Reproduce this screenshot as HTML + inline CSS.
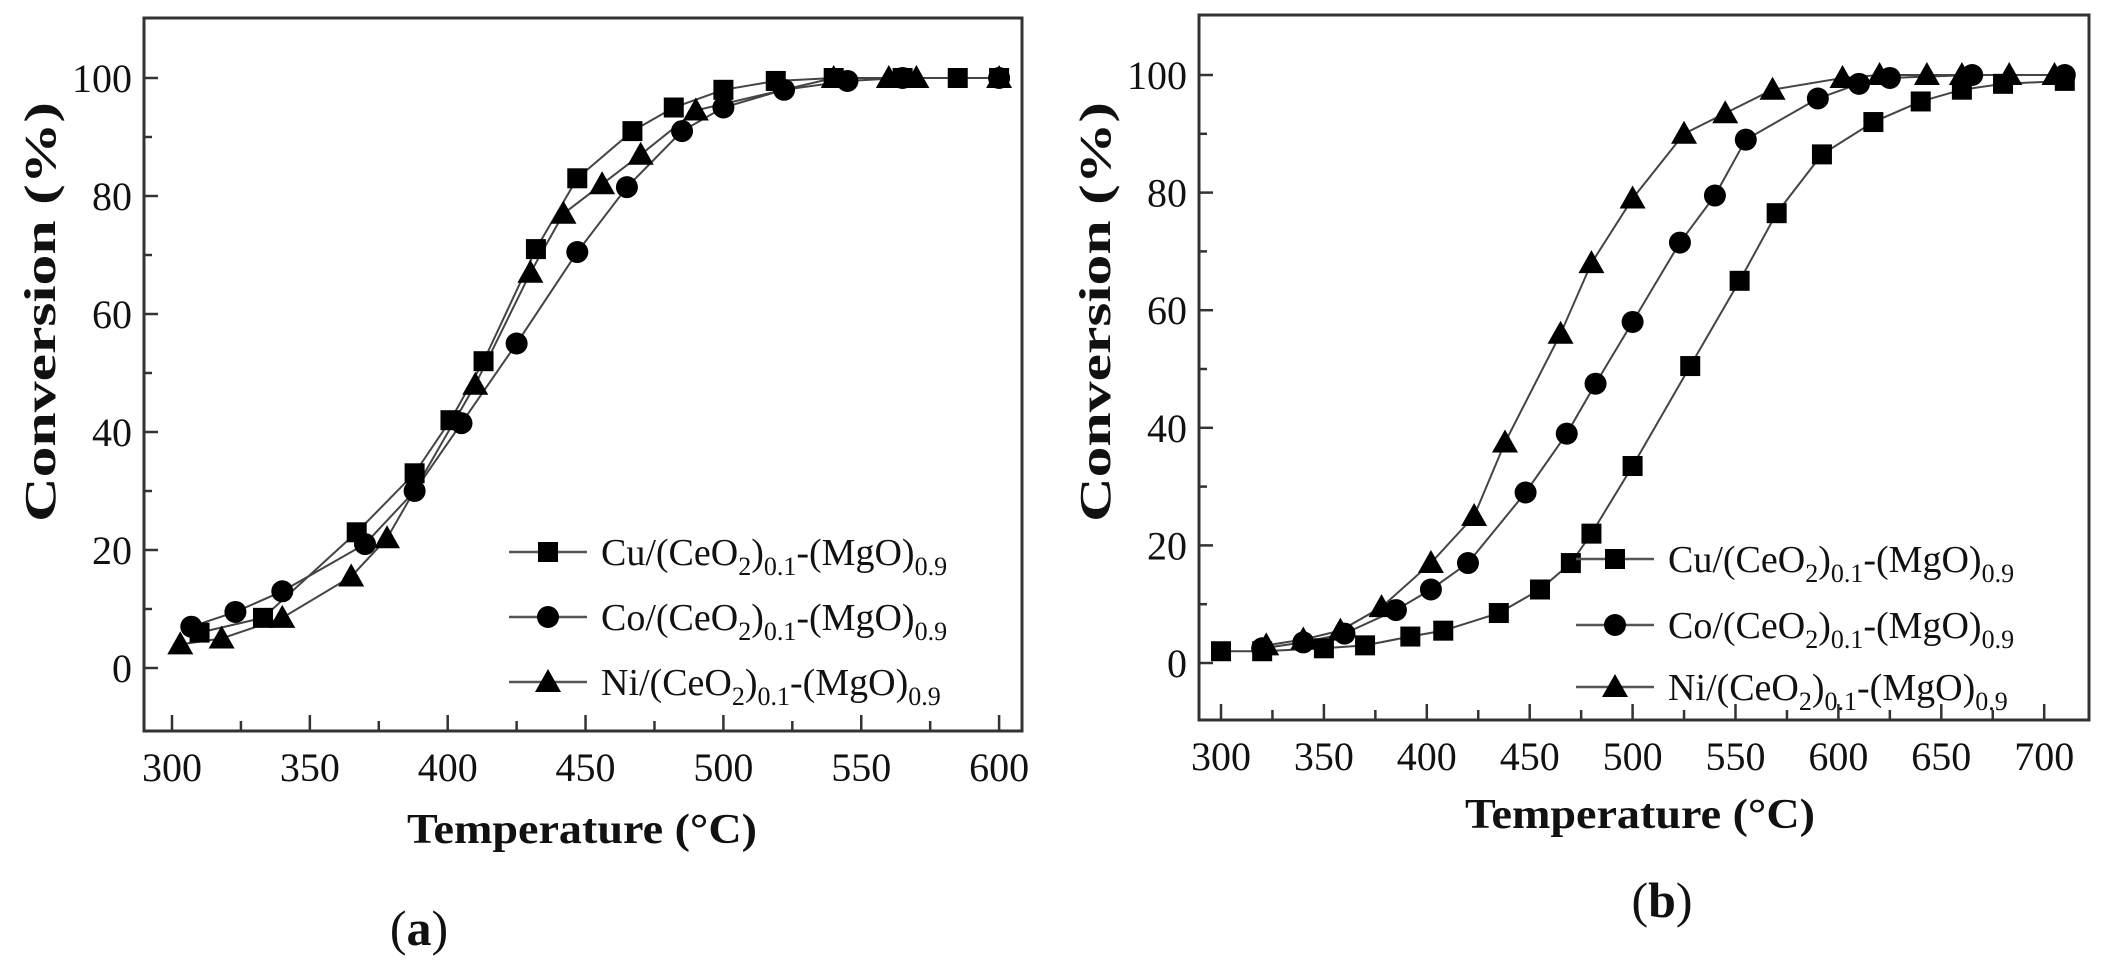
<!DOCTYPE html>
<html><head><meta charset="utf-8"><style>
html,body{margin:0;padding:0;background:#fff;}
svg{display:block;}
text{font-family:"Liberation Serif",serif;fill:#111;}
</style></head><body>
<svg id="s" width="2102" height="973" viewBox="0 0 2102 973" xmlns="http://www.w3.org/2000/svg"></svg>
<script>
const S=document.getElementById('s');const NS='http://www.w3.org/2000/svg';
function el(t,a,p){const e=document.createElementNS(NS,t);for(const k in a)e.setAttribute(k,a[k]);(p||S).appendChild(e);return e;}
function txt(x,y,s,a){const e=el('text',Object.assign({x:x,y:y},a||{}));e.innerHTML=s;return e;}
function marker(type,x,y){
 if(type=='s')el('rect',{x:x-10,y:y-10,width:20,height:20,fill:'#000'});
 else if(type=='c')el('circle',{cx:x,cy:y,r:11,fill:'#000'});
 else el('polygon',{points:`${x},${y-13} ${x+13},${y+10} ${x-13},${y+10}`,fill:'#000'});
}
function plot(P){
 const X=v=>P.x0+(v-P.xa)*P.kx, Y=v=>P.y0-v*P.ky;
 el('rect',{x:P.L,y:P.T,width:P.R-P.L,height:P.B-P.T,fill:'none',stroke:'#333','stroke-width':3});
 for(let v=0;v<=100;v+=10){const y=Y(v);el('line',{x1:P.L,y1:y,x2:P.L+(v%20?8:14),y2:y,stroke:'#333','stroke-width':2.5});
  if(v%20==0)txt(P.L-12,y+14,v,{'font-size':40,'text-anchor':'end'});}
 for(let v=P.xa;v<=P.xb;v+=25){const x=X(v);el('line',{x1:x,y1:P.B,x2:x,y2:P.B-(v%50?10:16),stroke:'#333','stroke-width':2.5});
  if(v%50==0)txt(x,P.B+50,v,{'font-size':40,'text-anchor':'middle'});}
 txt(P.tx,P.ty,'Temperature (°C)',{'font-size':42,'font-weight':'bold','text-anchor':'middle',textLength:350,lengthAdjust:'spacingAndGlyphs'});
 txt(0,0,'Conversion (%)',{'font-size':44,'font-weight':'bold','text-anchor':'middle',transform:`translate(${P.yx},${P.yy}) rotate(-90)`,textLength:420,lengthAdjust:'spacingAndGlyphs'});
 txt(P.lx,P.ly,P.lab,{'font-size':50,'text-anchor':'middle'});
 const types=['s','c','t'];
 P.data.forEach((d,i)=>{
  el('polyline',{points:d.map(p=>X(p[0])+','+Y(p[1])).join(' '),fill:'none',stroke:'#444','stroke-width':2});
 });
 P.data.forEach((d,i)=>d.forEach(p=>marker(types[i],X(p[0]),Y(p[1]))));
 const names=['Cu','Co','Ni'];
 P.leg.forEach((ly,i)=>{
  el('line',{x1:P.lgx,y1:ly,x2:P.lgx+78,y2:ly,stroke:'#555','stroke-width':2.5});
  marker(types[i],P.lgx+39,ly);
  txt(P.lgx+92,ly+13,`${names[i]}/(CeO<tspan font-size="26" dy="10">2</tspan><tspan dy="-10">)</tspan><tspan font-size="26" dy="10">0.1</tspan><tspan dy="-10">-(MgO)</tspan><tspan font-size="26" dy="10">0.9</tspan>`,{'font-size':38});
 });
}
plot({L:144,R:1022,T:18,B:731,x0:172,xa:300,xb:600,kx:2.757,y0:668,ky:5.9,
 tx:582,ty:843,yx:55,yy:312,lx:419,ly:945,lab:'(<tspan font-weight="bold">a</tspan>)',lgx:509,leg:[552,617,682],
 data:[
 [[310,6],[333,8.5],[367,23],[388,33],[401,42],[413,52],[432,71],[447,83],[467,91],[482,95],[500,98],[519,99.5],[540,100],[565,100],[585,100],[600,100]],
 [[307,7],[323,9.5],[340,13],[370,21],[388,30],[405,41.5],[425,55],[447,70.5],[465,81.5],[485,91],[500,95],[522,98],[545,99.5],[565,100],[600,100]],
 [[303,4],[318,5],[340,8.5],[365,15.5],[378,22],[410,48],[430,67],[442,77],[456,82],[470,87],[490,94.5],[540,100],[560,100],[570,100],[600,100]]
 ]});
plot({L:1199,R:2089,T:15,B:720,x0:1221,xa:300,xb:700,kx:2.058,y0:663,ky:5.88,
 tx:1640,ty:828,yx:1110,yy:312,lx:1662,ly:917,lab:'(<tspan font-weight="bold">b</tspan>)',lgx:1576,leg:[559,625,687],
 data:[
 [[300,2],[320,2],[350,2.5],[370,3],[392,4.5],[408,5.5],[435,8.5],[455,12.5],[470,17],[480,22],[500,33.5],[528,50.5],[552,65],[570,76.5],[592,86.5],[617,92],[640,95.5],[660,97.5],[680,98.5],[710,99]],
 [[320,2.5],[340,3.5],[360,5],[385,9],[402,12.5],[420,17],[448,29],[468,39],[482,47.5],[500,58],[523,71.5],[540,79.5],[555,89],[590,96],[610,98.5],[625,99.5],[665,100],[710,100]],
 [[322,3],[340,4],[358,5.5],[378,9.5],[402,17],[423,25],[438,37.5],[465,56],[480,68],[500,79],[525,90],[545,93.5],[568,97.5],[602,99.5],[620,100],[643,100],[660,100],[683,100],[705,100]]
 ]});
</script>
</body></html>
